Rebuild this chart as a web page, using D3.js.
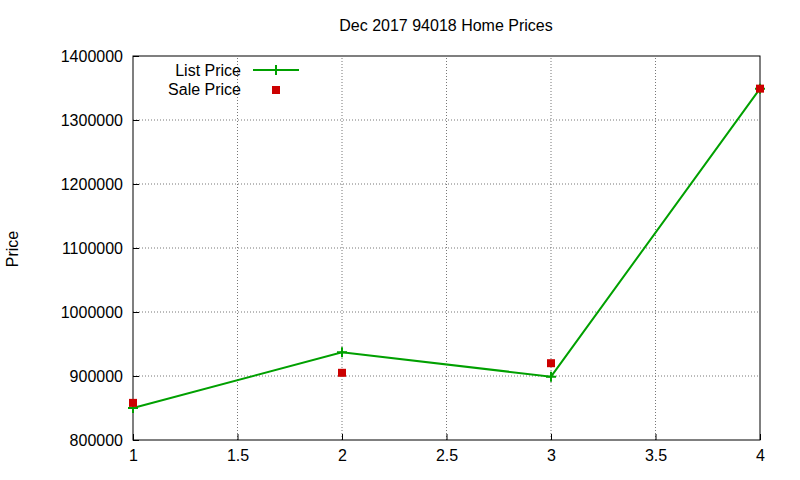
<!DOCTYPE html>
<html><head><meta charset="utf-8">
<script src="https://cdn.jsdelivr.net/npm/d3@7"></script>
<style>body{margin:0;background:#fff}svg text{font-family:"Liberation Sans",Arial,sans-serif;font-size:16px}</style>
</head><body><div id="chart"></div>
<script>
const xs = [1, 2, 3, 4];
const listPrice = [850000, 937000, 899000, 1349000];
const salePrice = [858000, 905000, 920000, 1349000];
const xTicks = [1, 1.5, 2, 2.5, 3, 3.5, 4];
const yTicks = [800000, 900000, 1000000, 1100000, 1200000, 1300000, 1400000];

const W = 800, H = 480;
const m = {top: 56, right: 40, bottom: 40, left: 133};
const svg = d3.select("#chart").append("svg").attr("width", W).attr("height", H);
const x = d3.scaleLinear().domain([1, 4]).range([m.left, W - m.right]);
const y = d3.scaleLinear().domain([800000, 1400000]).range([H - m.bottom, m.top]);

// grid
svg.append("g").selectAll("line").data(xTicks.slice(1, -1)).enter().append("line")
  .attr("x1", d => x(d)).attr("x2", d => x(d)).attr("y1", y(800000)).attr("y2", y(1400000))
  .attr("stroke", "#777").attr("stroke-dasharray", "1,2");
svg.append("g").selectAll("line").data(yTicks.slice(1, -1)).enter().append("line")
  .attr("x1", x(1)).attr("x2", x(4)).attr("y1", d => y(d)).attr("y2", d => y(d))
  .attr("stroke", "#777").attr("stroke-dasharray", "1,2");

// axes
svg.append("g").attr("transform", `translate(0,${y(800000)})`)
  .call(d3.axisBottom(x).tickValues(xTicks).tickSizeInner(-6).tickSizeOuter(0).tickPadding(10).tickFormat(d3.format("")))
  .call(g => g.select(".domain").remove());
svg.append("g").attr("transform", `translate(${m.left},0)`)
  .call(d3.axisLeft(y).tickValues(yTicks).tickSizeInner(-6).tickSizeOuter(0).tickPadding(10).tickFormat(d3.format("d")))
  .call(g => g.select(".domain").remove());
svg.append("rect").attr("x", x(1)).attr("y", y(1400000)).attr("width", x(4) - x(1)).attr("height", y(800000) - y(1400000))
  .attr("fill", "none").attr("stroke", "#000");
svg.selectAll(".tick text").attr("fill", "#000").style("font-size", "16px");

// title & label
svg.append("text").attr("x", 446).attr("y", 31).attr("text-anchor", "middle").text("Dec 2017 94018 Home Prices");
svg.append("text").attr("transform", "translate(18,249) rotate(-90)").attr("text-anchor", "middle").text("Price");

// list price line
const pts = xs.map((d, i) => [d, listPrice[i]]);
svg.append("path").datum(pts).attr("fill", "none").attr("stroke", "#00a000").attr("stroke-width", 2)
  .attr("d", d3.line().x(d => x(d[0])).y(d => y(d[1])));
const cross = (g, cx, cy) => g.append("path").attr("d", `M${cx-5},${cy}H${cx+5}M${cx},${cy-5}V${cy+5}`)
  .attr("stroke", "#00a000").attr("stroke-width", 2);
pts.forEach(p => cross(svg, x(p[0]), y(p[1])));

// sale price points
svg.append("g").selectAll("rect").data(xs).enter().append("rect")
  .attr("x", d => x(d) - 4).attr("y", (d, i) => y(salePrice[i]) - 4)
  .attr("width", 8).attr("height", 8).attr("fill", "#cc0000");

// legend
svg.append("text").attr("x", 241).attr("y", 76).attr("text-anchor", "end").text("List Price");
svg.append("line").attr("x1", 253).attr("x2", 299).attr("y1", 70).attr("y2", 70).attr("stroke", "#00a000").attr("stroke-width", 2);
cross(svg, 276, 70);
svg.append("text").attr("x", 241).attr("y", 95).attr("text-anchor", "end").text("Sale Price");
svg.append("rect").attr("x", 272).attr("y", 86).attr("width", 8).attr("height", 8).attr("fill", "#cc0000");
</script></body></html>
